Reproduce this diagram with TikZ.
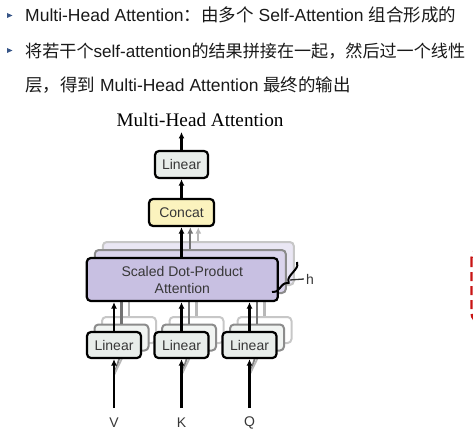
\documentclass[tikz,border=0pt]{standalone}
\usepackage{fontspec}
\setmainfont{Liberation Sans}
\newfontfamily\serifttl{Liberation Serif}
\newfontfamily\cjk{Noto Sans CJK SC}
\usetikzlibrary{arrows.meta,decorations.pathreplacing}
\definecolor{txt}{RGB}{25,25,25}
\definecolor{bul}{RGB}{55,85,135}
\definecolor{linfill}{RGB}{232,237,234}
\definecolor{catfill}{RGB}{251,243,190}
\definecolor{sdfill}{RGB}{200,192,226}
\definecolor{sdfilltwo}{RGB}{218,212,236}
\definecolor{sdfillthree}{RGB}{234,231,244}
\definecolor{dtxt}{RGB}{55,55,55}
\definecolor{redd}{RGB}{200,20,20}
\begin{document}
\begin{tikzpicture}[x=1bp,y=-1bp,
  bodytext/.style={anchor=base west, inner sep=0pt, text=txt, font=\fontsize{17.5bp}{20bp}\selectfont},
  box/.style={draw=black, line width=2.2bp, rounded corners=4bp, inner sep=0pt, text=dtxt, align=center, font=\fontsize{14bp}{17bp}\selectfont},
  ghosttwo/.style={draw=black!45, line width=2bp, rounded corners=4bp, inner sep=0pt},
  ghostthree/.style={draw=black!22, line width=2bp, rounded corners=4bp, inner sep=0pt},
  linbox/.style={box, fill=linfill, minimum width=54bp, minimum height=26bp},
  sdbox/.style={minimum width=191bp, minimum height=43bp},
  lbsize/.style={minimum width=54bp, minimum height=26bp},
  arr/.style={line width=2.1bp, -{Latex[length=6.5bp,width=6bp]}},
  garrtwo/.style={arr, draw=black!55},
  garrthree/.style={arr, draw=black!28},
  lbl/.style={inner sep=0pt, text=dtxt, font=\fontsize{14bp}{16bp}\selectfont}
]
\useasboundingbox (0,0) rectangle (473,439);

% bullet text
\fill[bul] (7,13) -- (12.5,15.5) -- (7,18) -- cycle;
\fill[bul] (7,48) -- (12.5,50.5) -- (7,53) -- cycle;
\node[bodytext] (l1) at (25,21.7) {Multi-Head Attention{\cjk ：由多个} Self-Attention {\cjk 组合形成的}};
\node[bodytext, font=\fontsize{17.1bp}{20bp}\selectfont] (l2) at (25,57.7) {{\cjk 将若干个}self-attention{\cjk 的结果拼接在一起，然后过一个线性}};
\node[bodytext] (l3) at (25,91.7) {{\cjk 层，得到} Multi-Head Attention {\cjk 最终的输出}};

% red dashed frame at right edge
\draw[redd, line width=2.4bp, dashed, dash pattern=on 9bp off 5bp, rounded corners=10bp] (471.5,248) rectangle (560,323);

% title
\node[inner sep=0pt, font=\serifttl\fontsize{19.2bp}{22bp}\selectfont] (title) at (200,120) {Multi-Head Attention};

% positions
\coordinate (sdc) at (182.3,279.5);
\coordinate (c1) at (114,345);
\coordinate (c2) at (181.5,345);
\coordinate (c3) at (249.5,345);

% back layers of scaled dot-product attention
\node[ghostthree, fill=sdfillthree, sdbox] (sd3) at ([shift={(16,-16)}]sdc) {};
\node[ghosttwo, fill=sdfilltwo, sdbox] (sd2) at ([shift={(8,-8)}]sdc) {};

% back layers of linear boxes
\foreach \i in {1,2,3}{
  \node[ghostthree, fill=white, lbsize] (lin\i c) at ([shift={(15,-15)}]c\i) {};
}
\foreach \i in {1,2,3}{
  \node[ghosttwo, fill=linfill!60!white, lbsize] (lin\i b) at ([shift={(7.5,-7.5)}]c\i) {};
}

% top nodes
\node[box, fill=linfill, minimum width=53bp, minimum height=27bp] (toplin) at (181.5,164.5) {Linear};
\node[box, fill=catfill, minimum width=65bp, minimum height=27bp] (concat) at (181.5,212.5) {Concat};

% gray arrows from back layers
\draw[garrthree] (sd3.north) -- (sd3.north |- concat.south);
\draw[garrtwo] (sd2.north) -- (sd2.north |- concat.south);
\foreach \i in {1,2,3}{
  \draw[garrthree] (lin\i c.north) -- (lin\i c.north |- sd3.south);
  \draw[garrtwo] (lin\i b.north) -- (lin\i b.north |- sd2.south);
}

% front scaled dot-product attention
\node[box, fill=sdfill, sdbox] (sd) at (sdc) {Scaled Dot-Product\\Attention};

% input branch lines
\foreach \i/\n in {1/V,2/K,3/Q}{
  \coordinate (br\i) at ([yshift=-30]c\i);
  \draw[black!50, line width=1.8bp] (br\i) -- (lin\i b.south);
  \draw[black!28, line width=1.8bp] (br\i) -- (lin\i c.south);
}

% front linear boxes
\node[linbox] (lin1) at (c1) {Linear};
\node[linbox] (lin2) at (c2) {Linear};
\node[linbox] (lin3) at (c3) {Linear};

% inputs
\node[lbl] (V) at (114,423) {V};
\node[lbl] (K) at (181.5,423) {K};
\node[lbl] (Q) at (249.5,423) {Q};
\coordinate (in1) at (114,408);
\coordinate (in2) at (181.5,408);
\coordinate (in3) at (249.5,408);

% black arrows
\foreach \i in {1,2,3}{
  \draw[arr] (in\i) -- (lin\i.south);
  \draw[arr] (lin\i.north) -- (lin\i.north |- sd.south);
}
\draw[arr] (sd.north -| concat.south) -- (concat.south);
\draw[arr] (concat.north) -- (toplin.south);
\coordinate (out) at (181.5,132);
\draw[arr] (toplin.north) -- (out);

% brace h
\draw[line width=2bp, decorate, decoration={brace, amplitude=7bp, aspect=0.55}] (297,262) -- (272,292);
\node[lbl] (h) at (310,279) {h};
\coordinate (btip) at (290,280);
\draw[line width=1.3bp, black!80] (btip) -- ([xshift=-2]h.west);
\end{tikzpicture}
\end{document}
